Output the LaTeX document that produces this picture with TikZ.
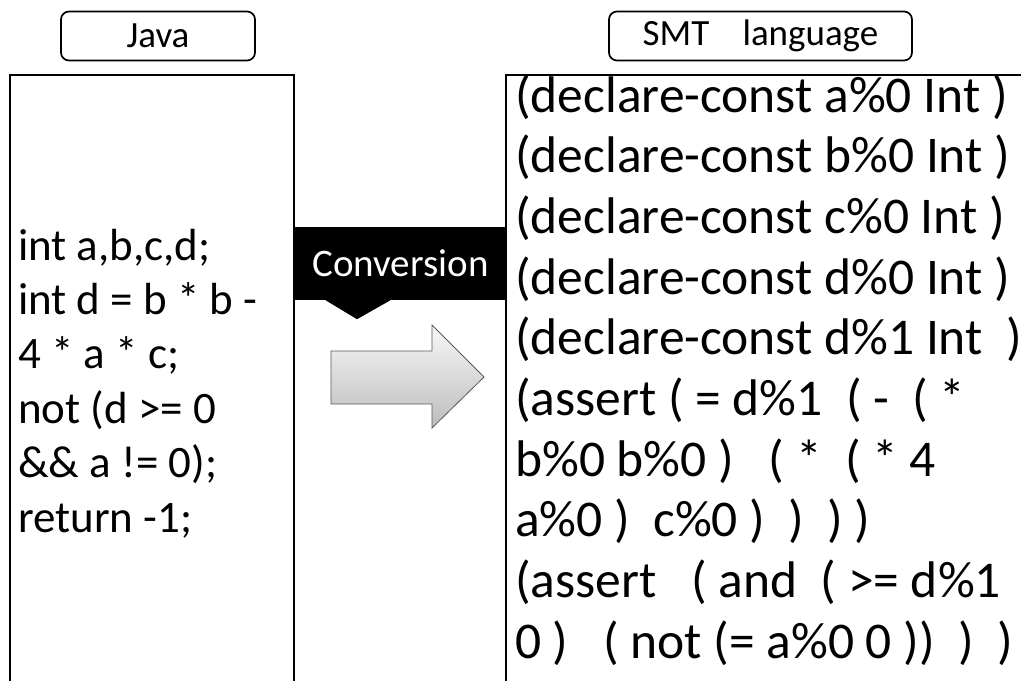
\documentclass[tikz,border=0pt]{standalone}
\usepackage{fontspec}
\setmainfont{Carlito}
\usetikzlibrary{positioning}

\tikzset{
  head/.style={draw, line width=1.7pt, rounded corners=8pt, minimum height=49pt,
    inner sep=0pt, font=\fontsize{37}{44}\selectfont},
  panel/.style={line width=2pt},
  javaline/.style={anchor=base west, inner sep=0pt, font=\fontsize{45}{54}\selectfont},
  smtline/.style={anchor=base west, inner sep=0pt, font=\fontsize{51.5}{61}\selectfont},
  convbox/.style={fill=black, text=white, minimum width=213pt, minimum height=73pt,
    inner sep=0pt, font=\fontsize{39}{46}\selectfont},
  blockarrow/.style={draw=black!65, line width=0.8pt, top color=black!3, bottom color=black!26}
}

\begin{document}
\begin{tikzpicture}[x=1pt, y=-1pt]
   \useasboundingbox (0,0) rectangle (1021,681);

   \node[head, minimum width=194pt] (java) at (158,36) {Java};
   \node[head, minimum width=303pt] (smt) at (760.5,36) {SMT\hspace{0.9em}language};

   % the two panels, open at the bottom
   \draw[panel] (10,681) -- (10,75) -- (294,75) -- (294,681);
   \draw[panel] (1021,75) -- (506,75) -- (506,681);

   \foreach \i/\t in {0/{int a,b,c,d;}, 1/{int d = b * b -}, 2/{4 * a * c;},
                      3/{not (d >= 0}, 4/{\&\& a != 0);}, 5/{return -1;}}
      \node[javaline] (j\i) at (18,260+54.4*\i) {\t};

   \foreach \i/\t in {0/{(declare-const a\%0 Int )}, 1/{(declare-const b\%0 Int )},
                      2/{(declare-const c\%0 Int )}, 3/{(declare-const d\%0 Int )},
                      4/{(declare-const d\%1 Int \ )}, 5/{(assert ( = d\%1 \ ( - \ ( *},
                      6/{b\%0 b\%0 ) \ \ ( * \ ( * 4}, 7/{a\%0 ) \ c\%0 ) \ ) \ ) )},
                      8/{(assert \ \ ( and \ ( >= d\%1}, 9/{0 ) \ \ ( not (= a\%0 0 )) \ ) \ )}}
      \node[smtline] (s\i) at (515,112+60.7*\i) {\t};

   \node[convbox] (conv) at (400.5,263.5) {Conversion};
   \fill ([xshift=-75pt]conv.south) -- ([xshift=-43.5pt,yshift=-19pt]conv.south)
         -- ([xshift=-10pt]conv.south) -- cycle;

   \draw[blockarrow] (331,351) -- (432,351) -- (432,325) -- (484,377)
         -- (432,428) -- (432,404) -- (331,404) -- cycle;
\end{tikzpicture}
\end{document}
